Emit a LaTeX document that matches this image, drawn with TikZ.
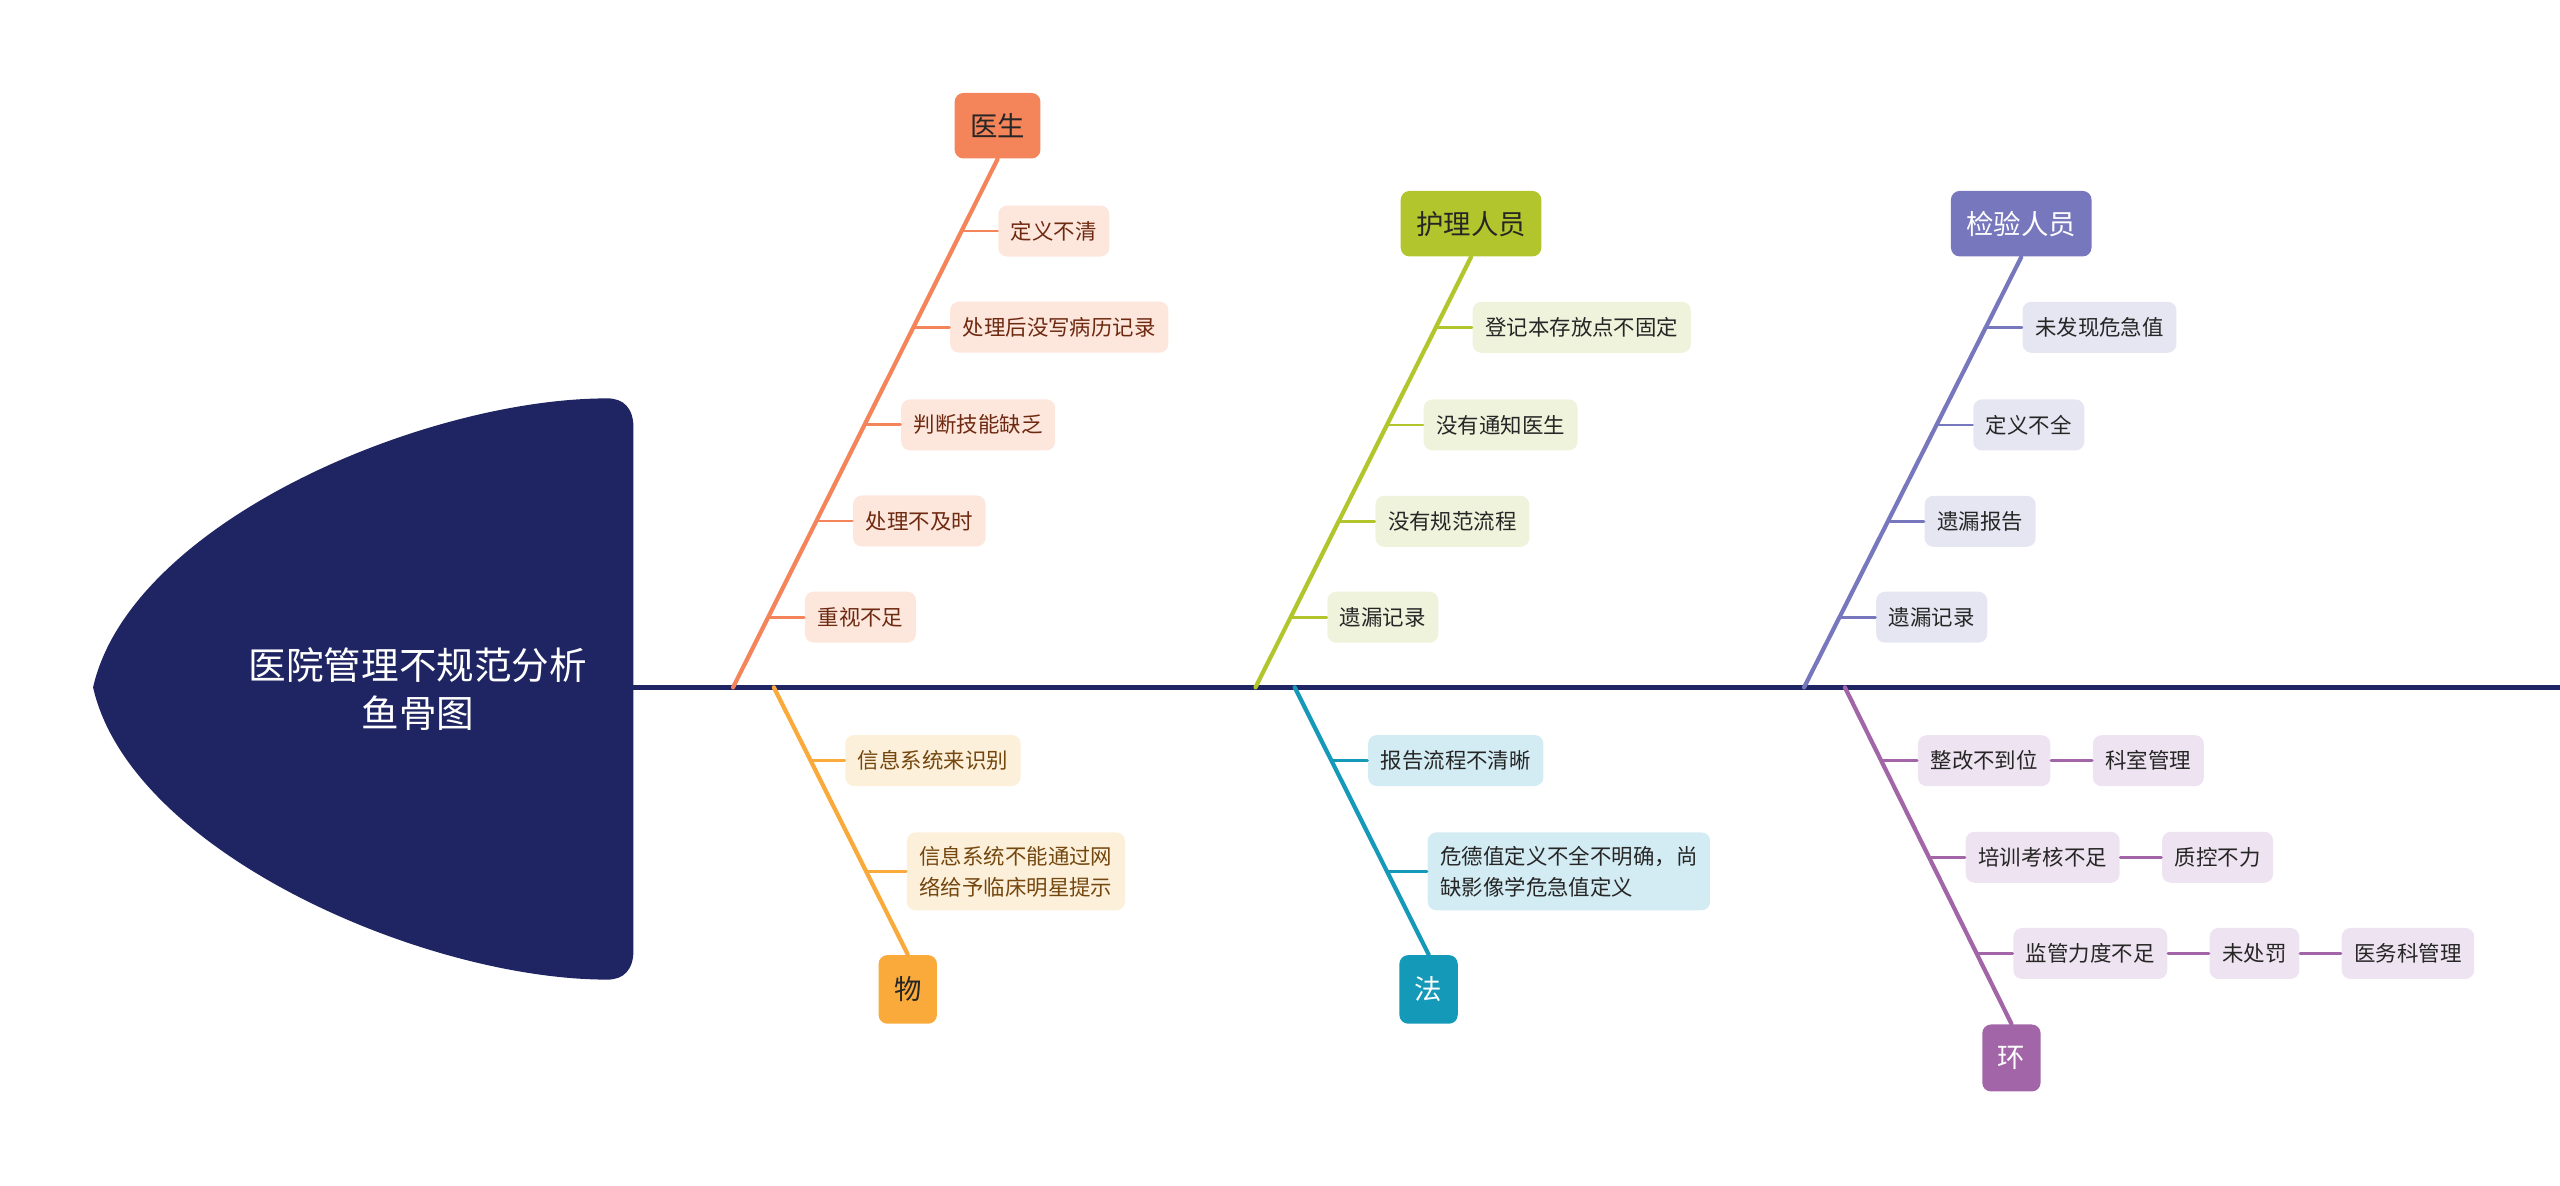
\documentclass[tikz,border=0pt]{standalone}
\usepackage{fontspec}
\setmainfont{Noto Sans CJK SC}
\usetikzlibrary{positioning}
\definecolor{navy}{HTML}{1F2562}
\definecolor{docC}{HTML}{F4845A}
\definecolor{docL}{HTML}{FDE6DC}
\definecolor{docT}{HTML}{6E2A10}
\definecolor{nurC}{HTML}{B3C52D}
\definecolor{nurL}{HTML}{EFF3DB}
\definecolor{labC}{HTML}{7777BD}
\definecolor{labL}{HTML}{E6E6F2}
\definecolor{matC}{HTML}{F9AA3A}
\definecolor{matL}{HTML}{FDF0DA}
\definecolor{matT}{HTML}{74470F}
\definecolor{lawC}{HTML}{1499B9}
\definecolor{lawL}{HTML}{D3ECF4}
\definecolor{envC}{HTML}{A266A8}
\definecolor{envL}{HTML}{EEE3F0}
\definecolor{inkT}{HTML}{262626}

\begin{document}
\begin{tikzpicture}[x=0.016327cm, y=-0.016327cm, line cap=round,
    cat/.style={rounded corners=2.5pt, minimum height=0.655cm, inner xsep=4.4pt,
      font=\fontsize{7.8}{9}\selectfont},
    cause/.style={rounded corners=2.5pt, minimum height=0.51cm, inner xsep=3.6pt,
      font=\fontsize{6.1}{8.8}\selectfont, align=left},
    bone/.style={line width=1.2pt},
    twig/.style={line width=0.8pt}]
    \useasboundingbox (0,0) rectangle (1568,726);

    % head and spine
    \fill[navy] (57,421) .. controls (80,320) and (260,244) .. (372,244)
        .. controls (382,244) and (388,250) .. (388,262) -- (388,582)
        .. controls (388,594) and (382,600) .. (372,600)
        .. controls (260,600) and (80,522) .. (57,421) -- cycle;
    \node[text=white, align=center, font=\fontsize{10.7}{13.9}\selectfont] (head) at (256,422)
        {医院管理不规范分析\\鱼骨图};
    \coordinate (spine) at (388,421);
    \coordinate (tail) at (1568,421);
    \draw[navy, line width=1.4pt] (spine) -- (tail);

    % 医生
    \node[cat, fill=docC, text=inkT] (doc) at (611,77) {医生};
    \coordinate (s1) at (449,421);
    \draw[bone, docC] (doc.south) -- (s1);
    \path (doc.south) -- (s1) coordinate[pos=0.136] (doc1) coordinate[pos=0.318] (doc2)
        coordinate[pos=0.503] (doc3) coordinate[pos=0.685] (doc4) coordinate[pos=0.867] (doc5);
    \foreach \i/\txt in {1/定义不清, 2/处理后没写病历记录, 3/判断技能缺乏, 4/处理不及时, 5/重视不足} {
        \node[cause, fill=docL, text=docT, right=3.6mm of doc\i] (docc\i) {\txt};
        \draw[twig, docC] (doc\i) -- (docc\i);
    }

    % 护理人员
    \node[cat, fill=nurC, text=inkT] (nur) at (901,137) {护理人员};
    \coordinate (s2) at (769,421);
    \draw[bone, nurC] (nur.south) -- (s2);
    \path (nur.south) -- (s2) coordinate[pos=0.163] (nur1) coordinate[pos=0.390] (nur2)
        coordinate[pos=0.614] (nur3) coordinate[pos=0.837] (nur4);
    \foreach \i/\txt in {1/登记本存放点不固定, 2/没有通知医生, 3/没有规范流程, 4/遗漏记录} {
        \node[cause, fill=nurL, text=inkT, right=3.6mm of nur\i] (nurc\i) {\txt};
        \draw[twig, nurC] (nur\i) -- (nurc\i);
    }

    % 检验人员
    \node[cat, fill=labC, text=white] (lab) at (1238,137) {检验人员};
    \coordinate (s3) at (1105,421);
    \draw[bone, labC] (lab.south) -- (s3);
    \path (lab.south) -- (s3) coordinate[pos=0.163] (lab1) coordinate[pos=0.390] (lab2)
        coordinate[pos=0.614] (lab3) coordinate[pos=0.837] (lab4);
    \foreach \i/\txt in {1/未发现危急值, 2/定义不全, 3/遗漏报告, 4/遗漏记录} {
        \node[cause, fill=labL, text=inkT, right=3.6mm of lab\i] (labc\i) {\txt};
        \draw[twig, labC] (lab\i) -- (labc\i);
    }

    % 物
    \node[cat, fill=matC, text=inkT, minimum height=0.686cm] (mat) at (556,606) {物};
    \coordinate (s4) at (474,421);
    \draw[bone, matC] (s4) -- (mat.north);
    \path (s4) -- (mat.north) coordinate[pos=0.274] (mat1) coordinate[pos=0.689] (mat2);
    \node[cause, fill=matL, text=matT, right=3.4mm of mat1] (matc1) {信息系统来识别};
    \node[cause, fill=matL, text=matT, right=4mm of mat2, minimum height=0.78cm] (matc2)
        {信息系统不能通过网\\络给予临床明星提示};
    \draw[twig, matC] (mat1) -- (matc1);
    \draw[twig, matC] (mat2) -- (matc2);

    % 法
    \node[cat, fill=lawC, text=white, minimum height=0.686cm] (law) at (875,606) {法};
    \coordinate (s5) at (793,421);
    \draw[bone, lawC] (s5) -- (law.north);
    \path (s5) -- (law.north) coordinate[pos=0.274] (law1) coordinate[pos=0.689] (law2);
    \node[cause, fill=lawL, text=inkT, right=3.6mm of law1] (lawc1) {报告流程不清晰};
    \node[cause, fill=lawL, text=inkT, right=4mm of law2, minimum height=0.78cm] (lawc2)
        {危德值定义不全不明确，尚\\缺影像学危急值定义};
    \draw[twig, lawC] (law1) -- (lawc1);
    \draw[twig, lawC] (law2) -- (lawc2);

    % 环
    \node[cat, fill=envC, text=white, minimum height=0.67cm] (env) at (1232,648) {环};
    \coordinate (s6) at (1130,421);
    \draw[bone, envC] (s6) -- (env.north);
    \path (s6) -- (env.north) coordinate[pos=0.218] (env1) coordinate[pos=0.505] (env2)
        coordinate[pos=0.791] (env3);
    \foreach \i/\txt in {1/整改不到位, 2/培训考核不足, 3/监管力度不足} {
        \node[cause, fill=envL, text=inkT, right=3.6mm of env\i] (envc\i) {\txt};
        \draw[twig, envC] (env\i) -- (envc\i);
    }
    \node[cause, fill=envL, text=inkT, right=4.1mm of envc1] (envd1) {科室管理};
    \node[cause, fill=envL, text=inkT, right=4.1mm of envc2] (envd2) {质控不力};
    \node[cause, fill=envL, text=inkT, right=4.1mm of envc3] (envd3) {未处罚};
    \node[cause, fill=envL, text=inkT, right=4.1mm of envd3] (enve3) {医务科管理};
    \draw[twig, envC] (envc1) -- (envd1);
    \draw[twig, envC] (envc2) -- (envd2);
    \draw[twig, envC] (envc3) -- (envd3);
    \draw[twig, envC] (envd3) -- (enve3);
\end{tikzpicture}
\end{document}
